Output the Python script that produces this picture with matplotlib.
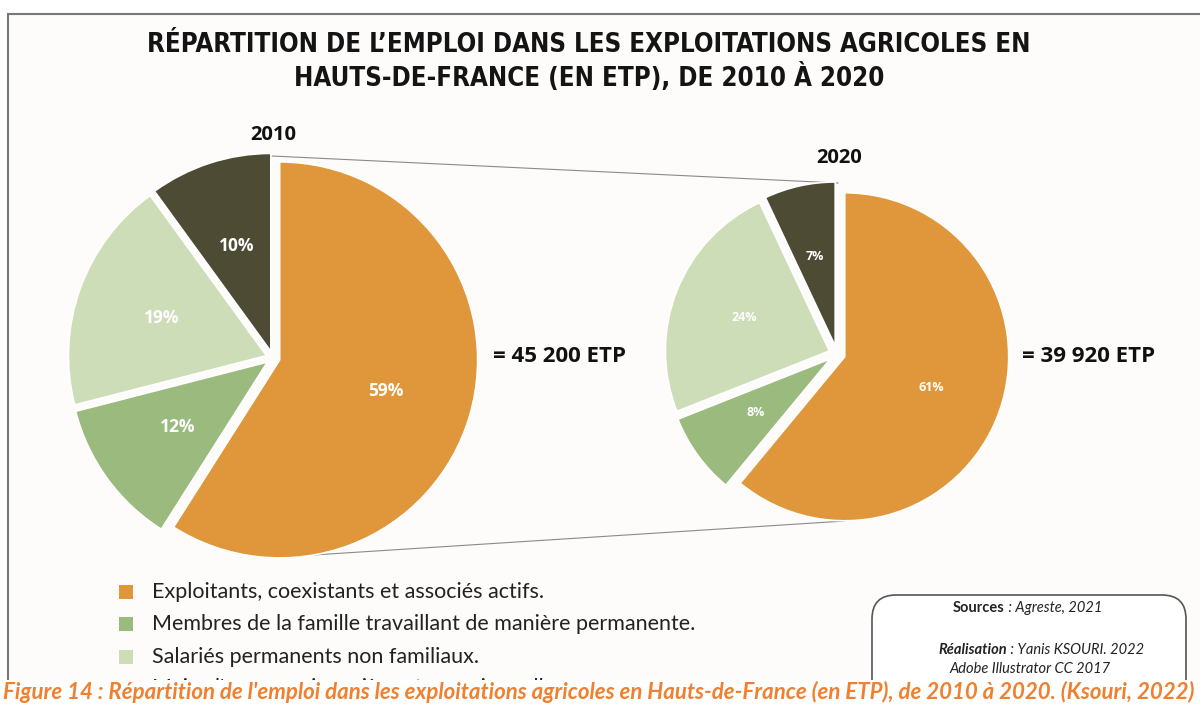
import matplotlib
matplotlib.use("Agg")
import matplotlib.pyplot as plt
from matplotlib.patches import FancyBboxPatch, Rectangle

# Données
categories = [
    "Exploitants, coexistants et associés actifs.",
    "Membres de la famille travaillant de manière permanente.",
    "Salariés permanents non familiaux.",
    "Main-d'œuvre saisonnière et occasionnelle.",
]
parts_2010 = [59, 12, 19, 10]
parts_2020 = [61, 8, 24, 7]
total_2010 = "45 200"
total_2020 = "39 920"
annees = ["2010", "2020"]
couleurs = ["#E0973B", "#9BBA7E", "#CDDDB7", "#4D4B34"]

W, H = 1200, 720


def Y(y):
    # coordonnées pixel (origine en haut) -> coordonnées axe
    return H - y


fig = plt.figure(figsize=(12, 7.2), dpi=100)
fig.patch.set_facecolor("white")
ax = fig.add_axes([0, 0, 1, 1])
ax.set_xlim(0, W)
ax.set_ylim(0, H)
ax.set_aspect("equal")
ax.axis("off")

# cadre
ax.add_patch(Rectangle((8, Y(682)), W, 682 - 14, facecolor="#FDFCFA",
                       edgecolor="#777777", lw=1.5, zorder=0))

# titre
for yy, ligne in [(45, "RÉPARTITION DE L’EMPLOI DANS LES EXPLOITATIONS AGRICOLES EN"),
                  (77, "HAUTS-DE-FRANCE (EN ETP), DE 2010 À 2020")]:
    ax.text(589, Y(yy), ligne, ha="center", va="center", fontsize=18.5,
            fontweight="heavy", fontstretch="condensed", family="DejaVu Sans",
            color="#141414")

# lignes de liaison entre les deux camemberts
ax.plot([272, 838], [Y(156), Y(183)], color="#8a8a8a", lw=0.8, zorder=1)
ax.plot([282, 845], [Y(557), Y(521)], color="#8a8a8a", lw=0.8, zorder=1)


def camembert(valeurs, centre, rayon, eclat, taille):
    # explode est en unités de données : on le multiplie par le rayon
    ax.pie(valeurs, colors=couleurs, startangle=90, counterclock=False,
           center=centre, radius=rayon, explode=[eclat * rayon] * len(valeurs),
           autopct=lambda p: f"{p:.0f}%", pctdistance=0.56,
           wedgeprops=dict(edgecolor="white", linewidth=1.2),
           textprops=dict(color="white", fontsize=taille, fontweight="bold",
                          family="Open Sans"),
           frame=True)


camembert(parts_2010, (273, Y(358)), 198, 0.035, 12.5)
camembert(parts_2020, (837, Y(354)), 164, 0.05, 9)
ax.set_xlim(0, W)
ax.set_ylim(0, H)
ax.axis("off")

ax.text(273, Y(135), annees[0], ha="center", va="center", fontsize=14.5,
        fontweight="bold", family="Open Sans", color="#111111")
ax.text(839, Y(158), annees[1], ha="center", va="center", fontsize=14.5,
        fontweight="bold", family="Open Sans", color="#111111")
ax.text(493, Y(357), f"= {total_2010} ETP", ha="left", va="center",
        fontsize=16, fontweight="bold", family="Open Sans", color="#111111")
ax.text(1022, Y(357), f"= {total_2020} ETP", ha="left", va="center",
        fontsize=16, fontweight="bold", family="Open Sans", color="#111111")

# légende (la 4e ligne est en partie masquée par la légende de figure)
lignes = [592, 624, 657, 688]
for cat, coul, yy in zip(categories, couleurs, lignes):
    ax.add_patch(Rectangle((119, Y(yy) - 7), 14, 14, facecolor=coul,
                           edgecolor="none"))
    ax.text(152, Y(yy), cat, ha="left", va="center", fontsize=15.5,
            family="Lato", color="#222222")

# encadré sources
ax.add_patch(FancyBboxPatch((872, Y(705)), 314, 110,
                            boxstyle="round,pad=0,rounding_size=24",
                            facecolor="white", edgecolor="#555555", lw=1.2))
t1 = ax.text(953, Y(608), "Sources", ha="left", va="center", fontsize=10.5,
             fontweight="bold", family="Lato", color="#222222")
ax.annotate(" : Agreste, 2021", xy=(1, 0.5), xycoords=t1, va="center",
            fontsize=10.5, style="italic", family="Lato", color="#222222")
t2 = ax.text(938, Y(650), "Réalisation", ha="left", va="center", fontsize=10.5,
             fontweight="bold", style="italic", family="Lato", color="#222222")
ax.annotate(" : Yanis KSOURI. 2022", xy=(1, 0.5), xycoords=t2, va="center",
            fontsize=10.5, style="italic", family="Lato", color="#222222")
ax.text(1030, Y(669), "Adobe Illustrator CC 2017", ha="center", va="center",
        fontsize=10.5, style="italic", family="Lato", color="#222222")

# bande de légende de figure
ax.add_patch(Rectangle((0, 0), W, Y(680), facecolor="white", edgecolor="none",
                       zorder=5))
ax.text(599, Y(692),
        "Figure 14 : Répartition de l'emploi dans les exploitations agricoles "
        "en Hauts-de-France (en ETP), de 2010 à 2020. (Ksouri, 2022)",
        ha="center", va="center", fontsize=16, fontweight="bold",
        style="italic", family="Lato", color="#F0802F", zorder=6)

fig.savefig("out.png", dpi=100)
